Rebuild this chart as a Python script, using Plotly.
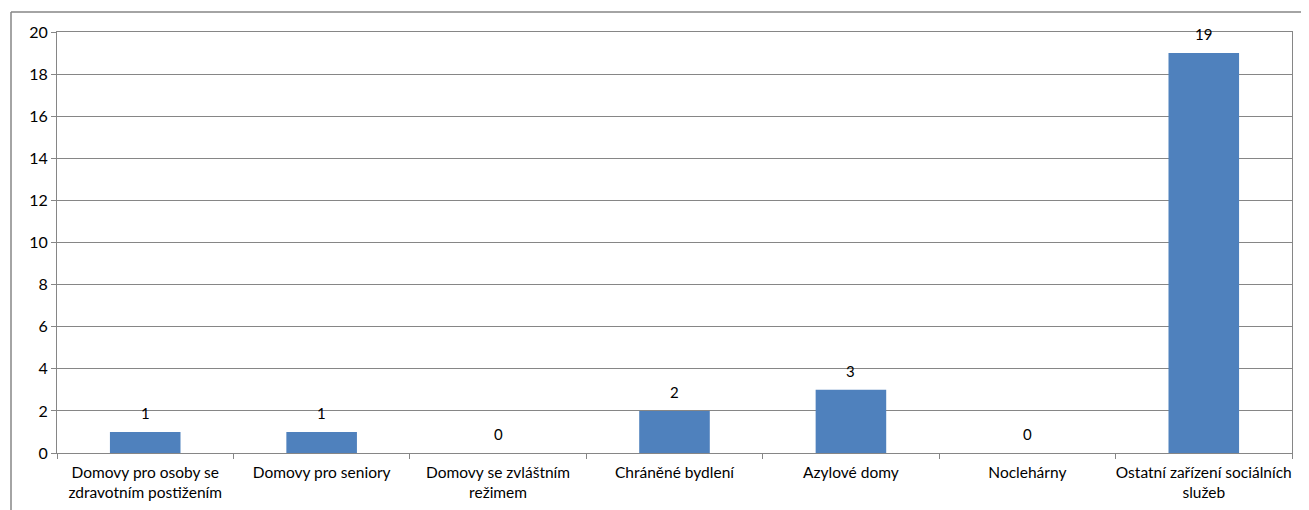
import plotly.graph_objects as go

categories = [
    "Domovy pro osoby se<br>zdravotním postižením",
    "Domovy pro seniory",
    "Domovy se zvláštním<br>režimem",
    "Chráněné bydlení",
    "Azylové domy",
    "Noclehárny",
    "Ostatní zařízení sociálních<br>služeb",
]
values = [1, 1, 0, 2, 3, 0, 19]
y_ticks = [0, 2, 4, 6, 8, 10, 12, 14, 16, 18, 20]

# page has an 8px body margin
OFF = 8
W, H = 1309 - 2 * OFF, 510 - OFF
ml, mt = 57 - OFF, 32 - OFF
mr = (OFF + W) - 1292
mb = 510 - 453
pw = W - ml - mr
ph = H - mt - mb

fig = go.Figure()
fig.add_trace(go.Bar(
    x=categories, y=values,
    marker=dict(color="#4F81BD", line=dict(width=0)),
    width=0.4,
    hoverinfo="skip",
))

for c, v in zip(categories, values):
    fig.add_annotation(x=c, y=v, text=str(v), showarrow=False,
                       yanchor="bottom", yshift=8,
                       font=dict(family="Lato, Open Sans, sans-serif", size=15, color="#000"))

grey = "#868686"
# outer chart frame
fx = -(57 - 11) / pw
fy = 1 + (32 - 12) / ph
fig.add_shape(type="line", xref="paper", yref="paper", x0=fx, x1=1.2, y0=fy, y1=fy,
              line=dict(color=grey, width=1.5))
fig.add_shape(type="line", xref="paper", yref="paper", x0=fx, x1=fx, y0=fy, y1=-0.3,
              line=dict(color=grey, width=1.5))

fig.update_layout(
    width=W, height=H,
    margin=dict(l=ml, r=mr, t=mt, b=mb, pad=0, autoexpand=False),
    plot_bgcolor="white", paper_bgcolor="white",
    showlegend=False,
    font=dict(family="Lato, Open Sans, sans-serif", size=15, color="#000"),
    xaxis=dict(
        type="category", tickson="boundaries", ticks="outside", ticklen=5,
        tickcolor=grey, showline=True, linecolor=grey, linewidth=1, mirror=True,
        showgrid=False, tickfont=dict(size=15.5), range=[-0.5, 6.5],
        tickangle=0, automargin=False, ticklabelstandoff=5,
    ),
    yaxis=dict(
        range=[0, 20], tickvals=y_ticks, ticks="outside", ticklen=5,
        tickcolor=grey, showline=True, linecolor=grey, linewidth=1, mirror=True,
        showgrid=True, gridcolor=grey, gridwidth=1, zeroline=False,
        tickfont=dict(size=16), automargin=False,
    ),
)

fig.write_html("out.html")
